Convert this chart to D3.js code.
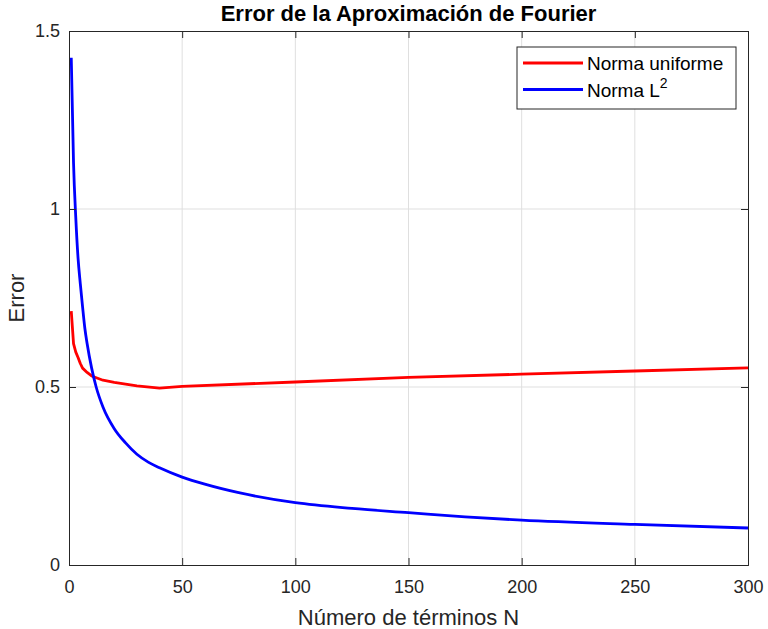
<!DOCTYPE html>
<html lang="es">
<head>
    <meta charset="utf-8">
    <title>Error de la Aproximación de Fourier</title>
    <style>
        body {
            margin: 0;
            background: #fff;
            font-family: "Liberation Sans", Arial, sans-serif;
        }
        .tick text {
            font-size: 18px;
            fill: #262626;
        }
    </style>
</head>
<body>
<svg id="chart"></svg>
<script src="https://d3js.org/d3.v7.min.js"></script>
<script>

  const width = 768;
  const height = 629;
  const margin = {top: 31, right: 20, bottom: 64, left: 69};

  // numero de terminos N
  const nUniform = [1, 2, 3, 4, 5, 6, 8, 10, 15, 20, 25, 30, 40, 50, 100, 150, 200, 250, 300];
  const errUniform = [0.713, 0.622, 0.598, 0.583, 0.566, 0.553, 0.541, 0.531, 0.519, 0.513, 0.508, 0.503, 0.497, 0.502, 0.514, 0.527, 0.536, 0.545, 0.554];

  const nL2 = [1, 2, 3, 4, 5, 6, 7, 8, 10, 12, 15, 20, 25, 30, 35, 40, 50, 60, 75, 100, 125, 150, 175, 200, 250, 300];
  const errL2 = [1.425, 1.13, 0.975, 0.862, 0.79, 0.725, 0.665, 0.622, 0.553, 0.5, 0.444, 0.383, 0.343, 0.311, 0.289, 0.273, 0.247, 0.227, 0.203, 0.175, 0.159, 0.147, 0.135, 0.126, 0.114, 0.104];

  const xTicks = [0, 50, 100, 150, 200, 250, 300];
  const yTicks = [0, 0.5, 1, 1.5];

  const series = [
    {name: "Norma uniforme", n: nUniform, err: errUniform, color: "#ff0000", curve: d3.curveLinear},
    {name: "Norma L", sup: "2", n: nL2, err: errL2, color: "#0000ff", curve: d3.curveMonotoneX}
  ];

  const innerW = width - margin.left - margin.right;
  const innerH = height - margin.top - margin.bottom;

  const x = d3.scaleLinear().domain([0, 300]).range([0, innerW]);
  const y = d3.scaleLinear().domain([0, 1.5]).range([innerH, 0]);

  const svg = d3.select("#chart")
    .attr("width", width)
    .attr("height", height);

  const g = svg.append("g")
    .attr("transform", `translate(${margin.left},${margin.top})`);

  // grid
  g.append("g").selectAll("line")
    .data(xTicks.slice(1, -1))
    .join("line")
    .attr("x1", d => x(d)).attr("x2", d => x(d))
    .attr("y1", 0).attr("y2", innerH)
    .attr("stroke", "#dfdfdf");
  g.append("g").selectAll("line")
    .data(yTicks.slice(1, -1))
    .join("line")
    .attr("y1", d => y(d)).attr("y2", d => y(d))
    .attr("x1", 0).attr("x2", innerW)
    .attr("stroke", "#dfdfdf");

  // curves
  series.forEach(s => {
    const line = d3.line()
      .x(d => x(d[0]))
      .y(d => y(d[1]))
      .curve(s.curve);
    g.append("path")
      .datum(d3.zip(s.n, s.err))
      .attr("fill", "none")
      .attr("stroke", s.color)
      .attr("stroke-width", 2.8)
      .attr("stroke-linejoin", "round")
      .attr("d", line);
  });

  // axes (inner ticks, box like matlab)
  const axisColor = "#262626";
  g.append("g")
    .attr("transform", `translate(0,${innerH})`)
    .call(d3.axisBottom(x).tickValues(xTicks).tickSize(-7).tickPadding(15).tickFormat(d3.format("d")));
  g.append("g")
    .call(d3.axisLeft(y).tickValues(yTicks).tickSize(-7).tickPadding(9).tickFormat(d => d));
  g.append("g")
    .call(d3.axisTop(x).tickValues(xTicks).tickSize(-7).tickFormat(""));
  g.append("g")
    .attr("transform", `translate(${innerW},0)`)
    .call(d3.axisRight(y).tickValues(yTicks).tickSize(-7).tickFormat(""));

  g.selectAll(".domain, .tick line").attr("stroke", axisColor);
  g.selectAll(".tick text").attr("font-family", null).attr("font-size", null);

  // title
  svg.append("text")
    .attr("x", margin.left + innerW / 2)
    .attr("y", 21)
    .attr("text-anchor", "middle")
    .attr("font-size", "22px")
    .attr("font-weight", "bold")
    .attr("fill", "#000")
    .text("Error de la Aproximación de Fourier");

  // axis labels
  svg.append("text")
    .attr("x", margin.left + innerW / 2)
    .attr("y", 625)
    .attr("text-anchor", "middle")
    .attr("font-size", "22px")
    .attr("fill", axisColor)
    .text("Número de términos N");

  svg.append("text")
    .attr("transform", `translate(24,${margin.top + innerH / 2}) rotate(-90)`)
    .attr("text-anchor", "middle")
    .attr("font-size", "22px")
    .attr("fill", axisColor)
    .text("Error");

  // legend
  const legend = svg.append("g").attr("transform", "translate(517,47)");
  legend.append("rect")
    .attr("width", 219).attr("height", 62)
    .attr("fill", "#fff")
    .attr("stroke", axisColor);

  const entry = legend.selectAll("g.entry")
    .data(series)
    .join("g")
    .attr("transform", (d, i) => `translate(0,${16 + i * 26.5})`);
  entry.append("line")
    .attr("x1", 6).attr("x2", 66)
    .attr("stroke", d => d.color)
    .attr("stroke-width", 2.8);
  const label = entry.append("text")
    .attr("x", 70).attr("y", 7)
    .attr("font-size", "19px")
    .attr("fill", "#000");
  label.append("tspan").text(d => d.name);
  label.filter(d => d.sup).append("tspan")
    .attr("dy", -9)
    .attr("font-size", "14px")
    .text(d => d.sup);

</script>
</body>
</html>
